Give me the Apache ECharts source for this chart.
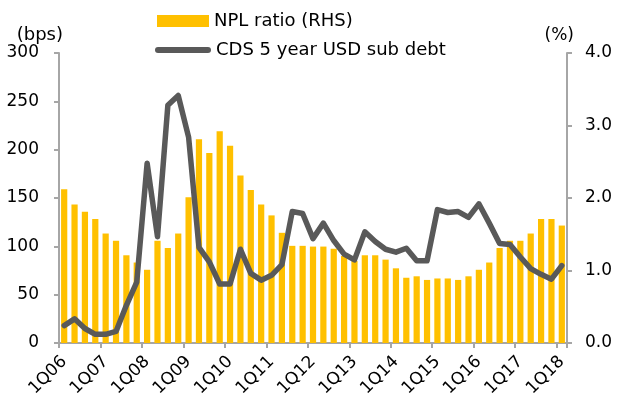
<!DOCTYPE html>
<html>
<head>
<meta charset="utf-8">
<script src="https://cdn.jsdelivr.net/npm/echarts@6/dist/echarts.min.js"></script>
<style>html,body{margin:0;padding:0;background:#fff;}#c{width:618px;height:402px;}</style>
</head>
<body>
<div id="c"></div>
<script>
const categories = [
  '1Q06','2Q06','3Q06','4Q06','1Q07','2Q07','3Q07','4Q07',
  '1Q08','2Q08','3Q08','4Q08','1Q09','2Q09','3Q09','4Q09',
  '1Q10','2Q10','3Q10','4Q10','1Q11','2Q11','3Q11','4Q11',
  '1Q12','2Q12','3Q12','4Q12','1Q13','2Q13','3Q13','4Q13',
  '1Q14','2Q14','3Q14','4Q14','1Q15','2Q15','3Q15','4Q15',
  '1Q16','2Q16','3Q16','4Q16','1Q17','2Q17','3Q17','4Q17',
  '1Q18'
];
const nplRatio = [
  2.12, 1.91, 1.81, 1.71, 1.51, 1.41, 1.21, 1.11,
  1.01, 1.41, 1.31, 1.51, 2.01, 2.81, 2.62, 2.92,
  2.72, 2.31, 2.11, 1.91, 1.76, 1.52, 1.34, 1.34,
  1.33, 1.33, 1.30, 1.20, 1.13, 1.21, 1.21, 1.15,
  1.03, 0.90, 0.92, 0.87, 0.89, 0.89, 0.87, 0.92,
  1.01, 1.11, 1.31, 1.41, 1.41, 1.51, 1.71, 1.71,
  1.62
];
const cdsSubDebt = [
  18, 25, 15, 9, 9, 12, 39, 63,
  186, 110, 246, 256, 213, 99, 84, 61,
  61, 97, 72, 65, 70, 81, 136, 134,
  108, 124, 106, 92, 86, 115, 105, 97,
  94, 98, 85, 85, 138, 135, 136, 130,
  144, 124, 103, 102, 89, 77, 71, 66,
  80
];
const leftTicks = { min: 0, max: 300, interval: 50 };
const rightTicks = { min: 0, max: 4, interval: 1 };

const FONT = 'DejaVu Sans';
const chart = echarts.init(document.getElementById('c'), null, { renderer: 'canvas' });
const axisGray = '#a6a6a6';
chart.setOption({
  animation: false,
  textStyle: { fontFamily: FONT, color: '#000' },
  grid: { left: 59, right: 51, top: 53, bottom: 59, outerBoundsMode: 'none' },
  legend: [
    {
      data: ['NPL ratio (RHS)'],
      left: 157, top: 12, padding: 0,
      itemWidth: 52, itemHeight: 12, icon: 'rect', itemGap: 5,
      textStyle: { fontFamily: FONT, fontSize: 18, color: '#000' }
    },
    {
      data: ['CDS 5 year USD sub debt'],
      left: 155, top: 41, padding: 0,
      itemWidth: 56, itemHeight: 6, itemGap: 3,
      icon: 'path://M3,0 H53 A3,3 0 0 1 53,6 H3 A3,3 0 0 1 3,0 Z',
      textStyle: { fontFamily: FONT, fontSize: 18, color: '#000' }
    }
  ],
  xAxis: {
    type: 'category',
    data: categories,
    boundaryGap: true,
    axisLine: { lineStyle: { color: axisGray, width: 2 } },
    axisTick: { show: true, interval: 3, length: 5, lineStyle: { color: axisGray, width: 2 } },
    axisLabel: { interval: 3, rotate: 45, fontSize: 17, color: '#000', fontFamily: FONT, margin: 16, hideOverlap: false },
    splitLine: { show: false }
  },
  yAxis: [
    {
      type: 'value',
      min: leftTicks.min, max: leftTicks.max, interval: leftTicks.interval,
      name: '(bps)', nameLocation: 'end', nameGap: 8,
      nameTextStyle: { fontFamily: FONT, fontSize: 18, color: '#000', align: 'right', padding: [0, -4, 0, 0] },
      axisLine: { show: true, lineStyle: { color: axisGray, width: 2 } },
      axisTick: { show: true, length: 5, lineStyle: { color: axisGray, width: 2 } },
      axisLabel: { fontSize: 17, color: '#000', fontFamily: FONT, margin: 20 },
      splitLine: { show: false }
    },
    {
      type: 'value',
      min: rightTicks.min, max: rightTicks.max, interval: rightTicks.interval,
      name: '(%)', nameLocation: 'end', nameGap: 9,
      nameTextStyle: { fontFamily: FONT, fontSize: 17, color: '#000', align: 'right', padding: [0, -7, 0, 0] },
      axisLine: { show: true, lineStyle: { color: axisGray, width: 2 } },
      axisTick: { show: true, length: 5, lineStyle: { color: axisGray, width: 2 } },
      axisLabel: { fontSize: 17, color: '#000', fontFamily: FONT, margin: 18, formatter: v => v.toFixed(1) },
      splitLine: { show: false }
    }
  ],
  series: [
    {
      name: 'NPL ratio (RHS)',
      type: 'bar',
      yAxisIndex: 1,
      data: nplRatio,
      barCategoryGap: '40%',
      itemStyle: { color: '#FFC000' },
      z: 1
    },
    {
      name: 'CDS 5 year USD sub debt',
      type: 'line',
      yAxisIndex: 0,
      data: cdsSubDebt,
      symbol: 'none',
      lineStyle: { color: '#595959', width: 5.5, join: 'round', cap: 'round' },
      itemStyle: { color: '#595959' },
      z: 3
    }
  ]
});
</script>
</body>
</html>
